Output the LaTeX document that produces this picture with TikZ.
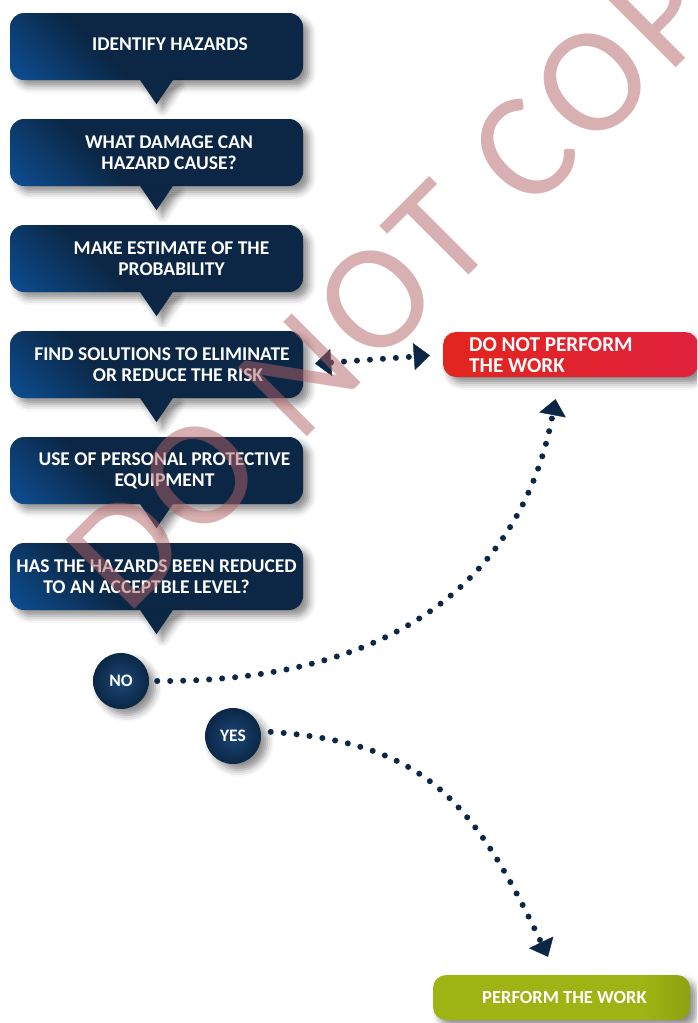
\documentclass[tikz,border=0pt]{standalone}
\usepackage{fontspec}
\setmainfont{Carlito}
\newfontfamily\wmfont[LetterSpace=5]{Carlito}
\usetikzlibrary{arrows.meta,shadows.blur}
\definecolor{hznavy}{HTML}{0B2745}
\definecolor{hzblue}{HTML}{0D4C8F}
\definecolor{hzmid}{HTML}{1B4679}
\definecolor{hzred}{HTML}{E2251D}
\definecolor{hzcrimson}{HTML}{E0213D}
\definecolor{hzgreen}{HTML}{9DB414}
\definecolor{hzolive}{HTML}{879C0F}
\definecolor{wmark}{HTML}{B36165}
\pgfdeclareverticalshading{stepfill}{100bp}{color(0bp)=(hzblue); color(16bp)=(hzblue); color(38bp)=(hznavy); color(100bp)=(hznavy)}
\pgfdeclarehorizontalshading{workfill}{100bp}{color(0bp)=(hzgreen); color(66bp)=(hzgreen); color(78bp)=(hzolive); color(100bp)=(hzolive)}
\tikzset{
  softshadow/.style={blur shadow={shadow xshift=6pt, shadow yshift=-6pt, shadow blur radius=7pt, shadow opacity=45}},
  stepbox/.style={rounded corners=14pt, minimum width=293pt, minimum height=67pt, shading=stepfill, shading angle=-45, softshadow},
  stepptr/.style={fill=hznavy, softshadow},
  steptext/.style={text=white, align=center, inner sep=0pt, font=\bfseries\fontsize{19.5}{21}\selectfont},
  endbox/.style={rounded corners=13pt, minimum height=45pt, softshadow},
  answer/.style={circle, minimum size=56pt, shading=radial, inner color=hzmid, outer color=hznavy, softshadow,
    text=white, font=\bfseries\fontsize{17.5}{18}\selectfont},
  dotline/.style={hznavy, line width=6pt, line cap=round, dash pattern=on 0pt off 13pt},
}
\begin{document}
\begin{tikzpicture}[x=1pt, y=-1pt, >={Triangle[length=16pt 0, width=27pt 0, line width=0.4pt]}]
  \clip (0,0) rectangle (697,1023);
  \node[stepbox] (b1) at (156.5,46.5) {};
  \fill[stepptr] ([xshift=-17pt,yshift=1pt]b1.south) -- ++(17,25) -- ++(17,-25) -- cycle;
  \node[steptext] (t1) at ([xshift=13.5pt,yshift=2pt]b1.center) {IDENTIFY HAZARDS};
  \node[stepbox] (b2) at (156.5,152.5) {};
  \fill[stepptr] ([xshift=-17pt,yshift=1pt]b2.south) -- ++(17,25) -- ++(17,-25) -- cycle;
  \node[steptext] (t2) at ([xshift=12.5pt]b2.center) {WHAT DAMAGE CAN\\HAZARD CAUSE?};
  \node[stepbox] (b3) at (156.5,258.5) {};
  \fill[stepptr] ([xshift=-17pt,yshift=1pt]b3.south) -- ++(17,25) -- ++(17,-25) -- cycle;
  \node[steptext] (t3) at ([xshift=15pt]b3.center) {MAKE ESTIMATE OF THE\\PROBABILITY};
  \node[stepbox] (b4) at (156.5,364.5) {};
  \fill[stepptr] ([xshift=-17pt,yshift=1pt]b4.south) -- ++(17,25) -- ++(17,-25) -- cycle;
  \node[steptext] (t4) at ([xshift=13.5pt]b4.center) {FIND SOLUTIONS TO ELIMINATE\hspace*{16pt}\\\hspace*{16pt}OR REDUCE THE RISK};
  \node[stepbox] (b5) at (156.5,470.5) {};
  \fill[stepptr] ([xshift=-17pt,yshift=1pt]b5.south) -- ++(17,25) -- ++(17,-25) -- cycle;
  \node[steptext] (t5) at ([xshift=8pt]b5.center) {USE OF PERSONAL PROTECTIVE\\EQUIPMENT};
  \node[stepbox] (b6) at (156.5,576.5) {};
  \fill[stepptr] ([xshift=-17pt,yshift=1pt]b6.south) -- ++(17,25) -- ++(17,-25) -- cycle;
  \node[steptext] (t6) at (b6.center) {HAS THE HAZARDS BEEN REDUCED\\TO AN ACCEPTBLE LEVEL?\hspace*{20pt}};
  \node[endbox, minimum width=255pt, left color=hzred, right color=hzcrimson] (dnp) at (570.5,354.5) {};
  \node[steptext, align=left, anchor=west, font=\bfseries\fontsize{21.2}{20.5}\selectfont] (tdnp) at (469,355) {DO NOT PERFORM\\THE WORK};
  \node[endbox, minimum width=257pt, shading=workfill] (pw) at (561.5,997.5) {};
  \node[steptext, font=\bfseries\fontsize{18.5}{20}\selectfont] (tpw) at ([xshift=3pt]pw.center) {PERFORM THE WORK};
  \node[answer] (no) at (121,681) {NO};
  \node[answer] (yes) at (233,736) {YES};
  \draw[dotline, <->, shorten <=12pt, shorten >=13pt] (b4.east) -- (dnp.west);
  \draw[dotline, ->, shorten <=8pt] (no.east) .. controls (447,682) and (531,530) .. ([xshift=-15pt,yshift=-22pt]dnp.south);
  \draw[dotline, ->, shorten <=10pt] (yes.10) .. controls (421,743) and (471,795) .. ([xshift=-13.5pt,yshift=18pt]pw.north);
  \node[anchor=base west, rotate=45, inner sep=0pt, text=wmark, text opacity=0.5, font=\wmfont\fontsize{152}{152}\selectfont] (wm) at (127,617) {DO NOT COPY};
\end{tikzpicture}
\end{document}
